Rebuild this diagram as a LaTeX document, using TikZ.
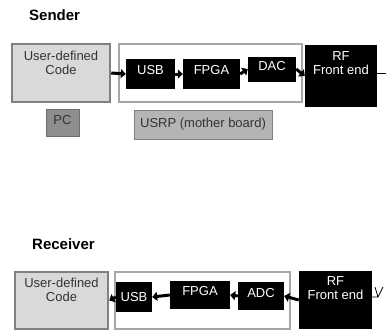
\documentclass[tikz,border=0pt]{standalone}
\usepackage{fontspec}
\setmainfont{Liberation Sans}
\usetikzlibrary{arrows.meta}
\definecolor{codefill}{HTML}{D9D9D9}
\definecolor{codeline}{HTML}{808080}
\definecolor{usrpline}{HTML}{A6A6A6}
\definecolor{pcfill}{HTML}{8E8E8E}
\definecolor{pcline}{HTML}{6E6E6E}
\definecolor{lblfill}{HTML}{B4B4B4}
\definecolor{txtgray}{HTML}{333333}
\tikzset{
  codebox/.style={draw=codeline,fill=codefill,line width=2.5pt,inner sep=0pt,align=center,text=txtgray,anchor=center,font=\fontsize{13}{14}\selectfont},
  usrpbox/.style={draw=usrpline,fill=white,line width=2pt,inner sep=0pt},
  blk/.style={fill=black,text=white,inner sep=0pt,align=center,font=\fontsize{13}{14}\selectfont},
  pcbox/.style={draw=pcline,fill=pcfill,line width=1pt,inner sep=0pt,text=txtgray,font=\fontsize{13}{14}\selectfont},
  lblbox/.style={draw=codeline,fill=lblfill,line width=1pt,inner sep=0pt,text=txtgray,font=\fontsize{13}{14}\selectfont},
  title/.style={font=\fontsize{15}{17}\selectfont\bfseries,anchor=west,inner sep=0pt},
  conn/.style={line width=3pt,-{Triangle[length=5pt,width=9pt]}},
  wire/.style={line width=0.8pt}
}
\begin{document}
\begin{tikzpicture}[x=1pt,y=-1pt]
\useasboundingbox[fill=white] (0,0) rectangle (386,333);
% Sender
\node[title] (st) at (29,15) {Sender};
\node[codebox,minimum width=98pt,minimum height=58pt,text depth=20pt] (scode) at (61,73) {User-defined\\Code};
\node[usrpbox,minimum width=183pt,minimum height=58pt] (susrp) at (210.5,73) {};
\node[blk,minimum width=49pt,minimum height=30pt,text depth=8pt] (susb) at (150.5,74) {USB};
\node[blk,minimum width=57pt,minimum height=30pt,text depth=8pt] (sfpga) at (211.5,74) {FPGA};
\node[blk,minimum width=48pt,minimum height=25pt,text depth=6pt] (sdac) at (272,69) {DAC};
\node[blk,minimum width=72pt,minimum height=62pt,text depth=26pt] (srf) at (341,76) {RF\\Front end};
\node[pcbox,minimum width=33pt,minimum height=27pt,text depth=5pt] (pc) at (62.5,122.5) {PC};
\node[lblbox,minimum width=138pt,minimum height=29pt] (ulbl) at (203,124.5) {USRP (mother board)};
\coordinate (sout) at (386,73);
\draw[conn] (scode.east) -- (susb.west);
\draw[conn] (susb.east) -- (sfpga.west);
\draw[conn] (sfpga.east) -- (sdac.west);
\draw[conn] (sdac.east) -- (srf.west);
\draw[wire] (srf.east |- sout) -- (sout);
% Receiver
\node[title] (rt) at (32,244) {Receiver};
\node[codebox,minimum width=93pt,minimum height=57pt,text depth=22pt] (rcode) at (61.5,300.5) {User-defined\\Code};
\node[usrpbox,minimum width=175pt,minimum height=57pt] (rusrp) at (202.5,300.5) {};
\node[blk,minimum width=36pt,minimum height=30pt] (rusb) at (134,297) {USB};
\node[blk,minimum width=60pt,minimum height=28pt,text depth=8pt] (rfpga) at (200,295) {FPGA};
\node[blk,minimum width=46pt,minimum height=28pt,text depth=6pt] (radc) at (261,296) {ADC};
\node[blk,minimum width=73pt,minimum height=58pt,text depth=24pt] (rrf) at (335.5,300) {RF\\Front end};
\draw[conn] (rusb.west) -- (rcode.east);
\draw[conn] (rfpga.west) -- (rusb.east);
\draw[conn] (radc.west) -- (rfpga.east);
\draw[conn] (rrf.west) -- (radc.east);
\coordinate (ant) at (378,297);
\coordinate (antl) at (375,287);
\coordinate (antr) at (383,287);
\draw[wire] (rrf.east |- ant) -- (ant) -- (antl);
\draw[wire] (ant) -- (antr);
\end{tikzpicture}
\end{document}
